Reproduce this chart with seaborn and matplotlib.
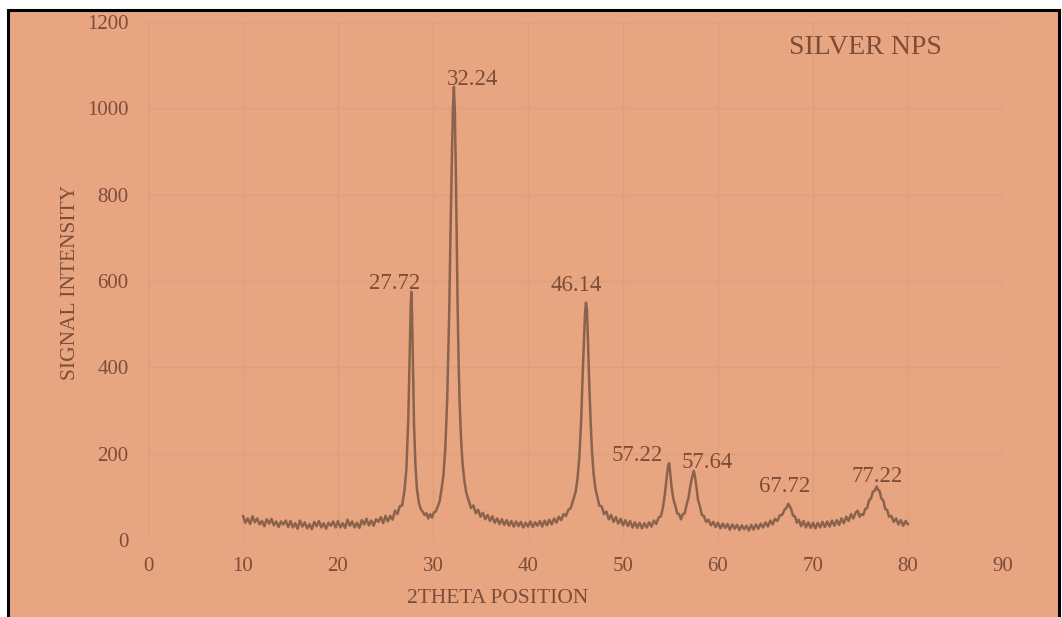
import matplotlib
matplotlib.use("Agg")
import matplotlib.pyplot as plt
from matplotlib.patches import Rectangle
import seaborn as sns
import pandas as pd

# 2theta 扫描
two_theta = [
    10.0, 10.25, 10.5, 10.75, 11.0, 11.25, 11.5, 11.75, 12.0, 12.25, 12.5, 12.75,
    13.0, 13.25, 13.5, 13.75, 14.0, 14.25, 14.5, 14.75, 15.0, 15.25, 15.5, 15.75,
    16.0, 16.25, 16.5, 16.75, 17.0, 17.25, 17.5, 17.75, 18.0, 18.25, 18.5, 18.75,
    19.0, 19.25, 19.5, 19.75, 20.0, 20.25, 20.5, 20.75, 21.0, 21.25, 21.5, 21.75,
    22.0, 22.25, 22.5, 22.75, 23.0, 23.25, 23.5, 23.75, 24.0, 24.25, 24.5, 24.75,
    25.0, 25.25, 25.5, 25.75, 26.0, 26.25, 26.5, 26.75, 27.0, 27.2, 27.4, 27.55,
    27.65, 27.72, 27.8, 27.9, 28.0, 28.15, 28.3, 28.5, 28.7, 28.9, 29.1, 29.3,
    29.5, 29.7, 29.9, 30.1, 30.3, 30.5, 30.7, 30.9, 31.1, 31.3, 31.5, 31.7,
    31.85, 32.0, 32.1, 32.2, 32.3, 32.4, 32.5, 32.6, 32.7, 32.8, 32.95, 33.1,
    33.3, 33.5, 33.75, 34.0, 34.25, 34.5, 34.75, 35.0, 35.25, 35.5, 35.75, 36.0,
    36.25, 36.5, 36.75, 37.0, 37.25, 37.5, 37.75, 38.0, 38.25, 38.5, 38.75, 39.0,
    39.25, 39.5, 39.75, 40.0, 40.25, 40.5, 40.75, 41.0, 41.25, 41.5, 41.75, 42.0,
    42.25, 42.5, 42.75, 43.0, 43.25, 43.5, 43.75, 44.0, 44.25, 44.5, 44.75, 45.0,
    45.2, 45.4, 45.6, 45.75, 45.9, 46.0, 46.1, 46.2, 46.3, 46.45, 46.6, 46.75,
    46.9, 47.1, 47.3, 47.5, 47.75, 48.0, 48.25, 48.5, 48.75, 49.0, 49.25, 49.5,
    49.75, 50.0, 50.25, 50.5, 50.75, 51.0, 51.25, 51.5, 51.75, 52.0, 52.25, 52.5,
    52.75, 53.0, 53.25, 53.5, 53.75, 54.0, 54.2, 54.4, 54.6, 54.75, 54.85, 54.95,
    55.1, 55.3, 55.5, 55.7, 55.9, 56.1, 56.3, 56.5, 56.7, 56.9, 57.1, 57.3,
    57.45, 57.55, 57.7, 57.9, 58.1, 58.3, 58.5, 58.75, 59.0, 59.25, 59.5, 59.75,
    60.0, 60.25, 60.5, 60.75, 61.0, 61.25, 61.5, 61.75, 62.0, 62.25, 62.5, 62.75,
    63.0, 63.25, 63.5, 63.75, 64.0, 64.25, 64.5, 64.75, 65.0, 65.25, 65.5, 65.75,
    66.0, 66.25, 66.5, 66.75, 67.0, 67.2, 67.4, 67.55, 67.7, 67.9, 68.1, 68.3,
    68.5, 68.75, 69.0, 69.25, 69.5, 69.75, 70.0, 70.25, 70.5, 70.75, 71.0, 71.25,
    71.5, 71.75, 72.0, 72.25, 72.5, 72.75, 73.0, 73.25, 73.5, 73.75, 74.0, 74.25,
    74.5, 74.7, 74.9, 75.1, 75.3, 75.5, 75.7, 75.9, 76.1, 76.3, 76.5, 76.7,
    76.85, 77.0, 77.2, 77.4, 77.6, 77.8, 78.0, 78.25, 78.5, 78.75, 79.0, 79.25,
    79.5, 79.75, 80.0,
]
intensity = [
    56, 40, 50, 37, 55, 41, 50, 36, 44, 32, 48, 38,
    49, 34, 43, 30, 43, 36, 45, 30, 44, 29, 39, 26,
    45, 31, 41, 27, 37, 25, 42, 32, 44, 29, 39, 26,
    40, 33, 43, 29, 44, 29, 39, 28, 47, 33, 43, 29,
    40, 28, 46, 36, 49, 34, 45, 33, 48, 42, 53, 39,
    56, 43, 56, 47, 68, 60, 78, 80, 115, 165, 280, 430,
    540, 575, 520, 390, 270, 175, 120, 88, 72, 66, 58, 62,
    50, 60, 52, 64, 66, 78, 90, 118, 150, 215, 330, 520,
    720, 900, 1000, 1050, 990, 860, 690, 530, 410, 320, 235, 180,
    138, 110, 92, 74, 80, 62, 70, 54, 63, 48, 58, 44,
    55, 40, 50, 37, 48, 35, 46, 33, 44, 31, 43, 32,
    42, 29, 40, 31, 43, 30, 41, 33, 44, 31, 45, 34,
    47, 36, 50, 40, 54, 46, 60, 56, 70, 74, 92, 110,
    140, 190, 280, 380, 470, 525, 550, 535, 470, 360, 270, 200,
    155, 118, 100, 80, 78, 60, 66, 48, 58, 42, 53, 38,
    49, 34, 46, 32, 44, 29, 41, 28, 40, 27, 39, 29,
    41, 31, 45, 37, 52, 55, 75, 105, 145, 172, 178, 160,
    125, 95, 80, 62, 60, 48, 60, 62, 82, 98, 127, 148,
    160, 150, 128, 92, 78, 58, 56, 42, 47, 34, 42, 30,
    40, 27, 38, 28, 37, 24, 36, 26, 35, 23, 34, 25,
    33, 22, 35, 24, 36, 26, 38, 29, 41, 31, 45, 36,
    49, 44, 57, 58, 70, 74, 84, 78, 72, 56, 55, 40,
    47, 32, 44, 29, 41, 28, 40, 27, 40, 29, 42, 30,
    43, 31, 45, 33, 46, 35, 50, 39, 54, 44, 60, 50,
    64, 68, 54, 60, 58, 72, 74, 92, 96, 112, 114, 124,
    116, 114, 96, 92, 72, 70, 54, 56, 42, 50, 36, 46,
    33, 44, 36,
]

# 峰标注
peak_labels = ["27.72", "32.24", "46.14", "57.22", "57.64", "67.72", "77.22"]
peak_x = [27.72, 32.2, 46.1, 54.85, 57.45, 67.4, 76.7]
peak_y = [575, 1050, 550, 178, 160, 84, 124]
label_offsets = [(-17, 8), (19, 7), (-10, 17), (-32, 8), (13, 8), (-4, 17), (0, 10)]

x_ticks = [0, 10, 20, 30, 40, 50, 60, 70, 80, 90]
y_ticks = [0, 200, 400, 600, 800, 1000, 1200]

bg = "#E8A582"
text_col = "#7E4D37"
line_col = "#8A634D"

sns.set_theme(style="white")
plt.rcParams['font.family'] = ['Liberation Serif', 'DejaVu Serif']

df = pd.DataFrame({'two_theta': two_theta, 'intensity': intensity})

fig = plt.figure(figsize=(10.62, 6.17), dpi=100, facecolor='white')
# 外框
frame = Rectangle((8 / 1062, -0.02), 1051 / 1062, 1.02 - 10 / 617,
                  transform=fig.transFigure, facecolor=bg,
                  edgecolor='black', linewidth=2.2, zorder=-10)
fig.patches.append(frame)

ax = fig.add_axes([148 / 1062, 77 / 617, 855 / 1062, 518 / 617])
ax.set_facecolor('none')
ax.set_zorder(5)

sns.lineplot(data=df, x='two_theta', y='intensity', ax=ax, color=line_col,
             linewidth=1.8, sort=False, estimator=None)

ax.set_xlim(0, 90)
ax.set_ylim(0, 1200)
ax.set_xticks(x_ticks)
ax.set_yticks(y_ticks)
ax.grid(True, color="#DF9E7C", linewidth=1.0)
for s in ax.spines.values():
    s.set_visible(False)
ax.tick_params(axis='both', length=0, labelsize=15, labelcolor=text_col)
ax.tick_params(axis='x', pad=12)
ax.tick_params(axis='y', pad=14)

ax.set_xlabel('2THETA POSITION', fontsize=15.5, color=text_col)
ax.set_ylabel('SIGNAL INTENSITY', fontsize=15.5, color=text_col)
ax.xaxis.set_label_coords(0.409, -0.0945)
ax.yaxis.set_label_coords(-0.0795, 0.498)

for lab, px, py, off in zip(peak_labels, peak_x, peak_y, label_offsets):
    ax.annotate(lab, (px, py), xytext=off, textcoords='offset pixels',
                ha='center', va='center', fontsize=16.5, color=text_col)

ax.text(75.5, 1142, 'SILVER NPS', ha='center', va='center', fontsize=20,
        color=text_col)

fig.savefig('out.png', dpi=100, facecolor='white')
